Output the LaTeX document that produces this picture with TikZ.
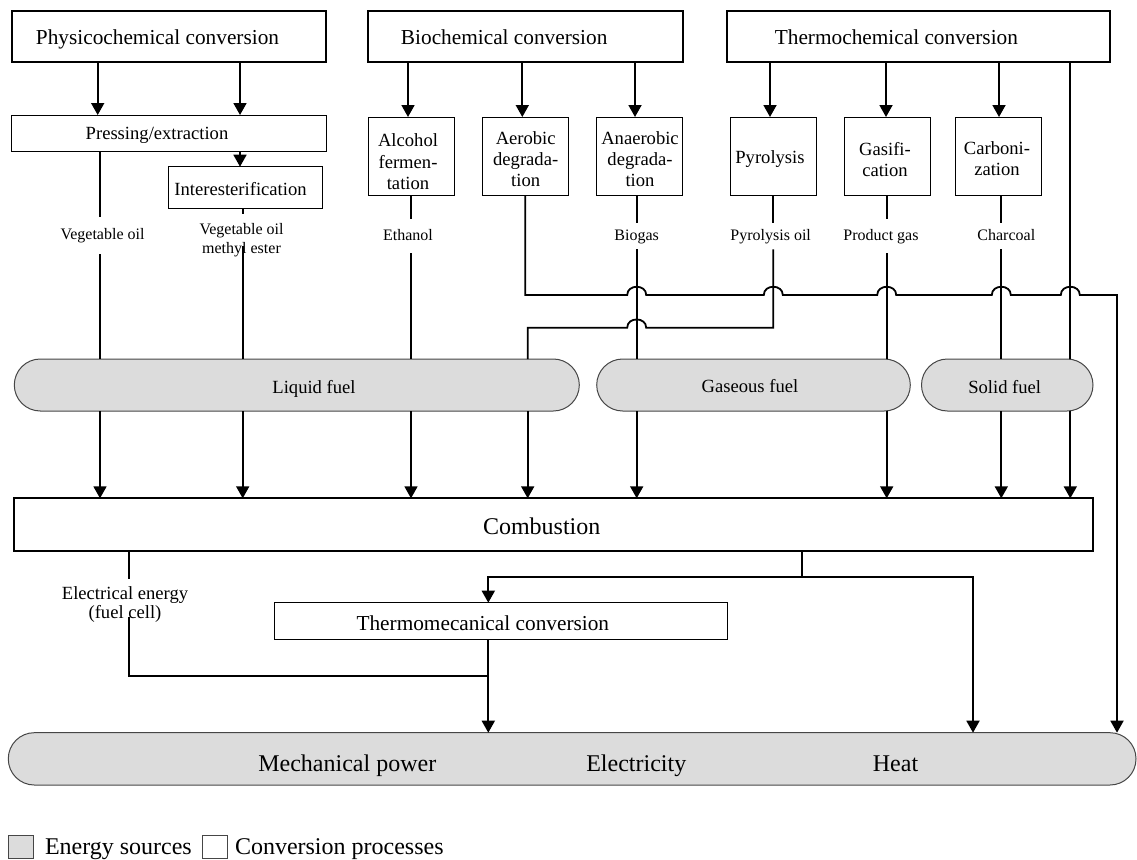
\documentclass[tikz,border=0pt]{standalone}
\usepackage{fontspec}
\setmainfont{Liberation Serif}
\usetikzlibrary{arrows.meta}
\definecolor{fuelgray}{RGB}{220,220,220}
\definecolor{edgegray}{RGB}{70,70,70}
\newcommand{\stk}[1]{\begin{tabular}[t]{@{}c@{}}#1\end{tabular}}
\begin{document}
\begin{tikzpicture}[x=1pt,y=-1pt,line join=miter,
 hdr/.style={draw, line width=2pt, rectangle, inner sep=0pt, outer sep=0pt},
 proc/.style={draw, line width=1pt, rectangle, inner sep=0pt, outer sep=0pt},
 fuel/.style={draw=edgegray, line width=1pt, fill=fuelgray, rectangle, rounded corners=26pt, inner sep=0pt, outer sep=0pt},
 txt/.style={inner sep=0pt, outer sep=0pt, anchor=base},
 lab/.style={inner sep=0pt, outer sep=0pt, text height=11pt, text depth=3.5pt, font=\fontsize{16}{19}\selectfont},
 conn/.style={line width=1.8pt},
 arr/.style={conn, -{Triangle[length=12pt,width=13pt]}},
 hfont/.style={txt, font=\fontsize{21.3}{25}\selectfont},
 pfont/.style={txt, font=\fontsize{18.6}{21.3}\selectfont},
 sfont/.style={txt, font=\fontsize{16}{19}\selectfont},
 bfont/.style={txt, font=\fontsize{24}{28}\selectfont},
]
\useasboundingbox (0,0) rectangle (1137,859);

% column coordinates
\coordinate (xA) at (97.7,0);
\coordinate (xB) at (240,0);
\coordinate (xC) at (408,0);
\coordinate (xD) at (522.3,0);
\coordinate (xE) at (635,0);
\coordinate (xF) at (770,0);
\coordinate (xG) at (886,0);
\coordinate (xH) at (999,0);
\coordinate (cVeg) at (100,0);
\coordinate (cEth) at (411,0);
\coordinate (cAer) at (525.3,0);
\coordinate (cLq) at (527.7,0);
\coordinate (cBio) at (636.7,0);
\coordinate (cPyr) at (773.3,0);
\coordinate (cPg) at (886.7,0);
\coordinate (cCh) at (1001.3,0);
\coordinate (cTR) at (1070.3,0);
\coordinate (cR) at (1117,0);
\coordinate (cVme) at (242.7,0);
\coordinate (cEl) at (129,0);
\coordinate (cCo) at (802,0);
\coordinate (cTm) at (488.3,0);
\coordinate (cHt) at (973,0);
\coordinate (y295) at (0,295);
\coordinate (y328) at (0,327.7);
\coordinate (y577) at (0,577.3);
\coordinate (y676) at (0,676);
\coordinate (vmeN) at (242.7,214);
\coordinate (vmeS) at (242.7,246);
\coordinate (elN) at (129,579.3);
\coordinate (elS) at (129,616.7);

% headers
\node[hdr, minimum width=314.3pt, minimum height=51.3pt] (phys) at (168.85,36.35) {};
\node[hdr, minimum width=314.7pt, minimum height=51.3pt] (bio) at (525.35,36.35) {};
\node[hdr, minimum width=383pt, minimum height=51.3pt] (thermo) at (918.8,36.35) {};
\node[hfont] (physt) at (157.5,44.3) {Physicochemical conversion};
\node[hfont] (biot) at (504.2,44.3) {Biochemical conversion};
\node[hfont] (thermot) at (896.4,44.3) {Thermochemical conversion};

% processes
\node[proc, minimum width=314.3pt, minimum height=36pt] (press) at (168.85,133) {};
\node[pfont] (presst) at (157,139.3) {Pressing/extraction};
\node[proc, minimum width=154pt, minimum height=41.3pt] (inter) at (245.7,187.35) {};
\node[pfont] (intert) at (240.5,195.7) {Interesterification};
\node[proc, minimum width=86pt, minimum height=78pt] (alc) at (411,156) {};
\node[pfont] (alct) at (408,146.7) {\stk{Alcohol\\fermen-\\tation}};
\node[proc, minimum width=85.6pt, minimum height=78pt] (aer) at (525.5,156) {};
\node[pfont] (aert) at (525.7,144) {\stk{Aerobic\\degrada-\\tion}};
\node[proc, minimum width=85.6pt, minimum height=78pt] (ana) at (639.5,156) {};
\node[pfont] (anat) at (640,144) {\stk{Anaerobic\\degrada-\\tion}};
\node[proc, minimum width=85.6pt, minimum height=78pt] (pyr) at (773.5,156) {};
\node[pfont] (pyrt) at (770,163.3) {Pyrolysis};
\node[proc, minimum width=86pt, minimum height=78pt] (gasi) at (887.3,156) {};
\node[pfont] (gasit) at (885,155) {\stk{Gasifi-\\cation}};
\node[proc, minimum width=85.6pt, minimum height=78pt] (car) at (998.5,156) {};
\node[pfont] (cart) at (997,154.3) {\stk{Carboni-\\zation}};

% product labels
\node[lab, minimum height=37pt] (lveg) at (102.5,235.55) {Vegetable oil};
\node[sfont] (lvme) at (241.5,234.3) {\stk{Vegetable oil\\methyl ester}};
\node[lab, minimum height=34pt] (leth) at (408,236.25) {Ethanol};
\node[lab, minimum height=26.3pt] (lbio) at (636.7,236.25) {Biogas};
\node[lab, minimum height=26.3pt] (lpyr) at (770.7,236.25) {Pyrolysis oil};
\node[lab, minimum height=33.7pt] (lpg) at (881,236.25) {Product gas};
\node[lab, minimum height=26.3pt] (lch) at (1006.3,236.25) {Charcoal};

% fuels
\node[fuel, minimum width=565pt, minimum height=52pt] (liq) at (296.8,385) {};
\node[pfont] (liqt) at (314,393.3) {Liquid fuel};
\node[fuel, minimum width=313.6pt, minimum height=52pt] (gasf) at (753.5,385) {};
\node[pfont] (gasft) at (750,392.3) {Gaseous fuel};
\node[fuel, minimum width=171.5pt, minimum height=52pt] (sol) at (1007.25,385) {};
\node[pfont] (solt) at (1004.7,393.3) {Solid fuel};

% combustion
\node[hdr, minimum width=1079pt, minimum height=52.7pt] (comb) at (553.5,524.65) {};
\node[bfont] (combt) at (541.7,534.3) {Combustion};

% electrical label and thermomechanical
\node[txt, font=\fontsize{18.6}{19.3}\selectfont] (lel) at (125,599) {\stk{Electrical energy\\(fuel cell)}};
\node[proc, minimum width=453.7pt, minimum height=36.6pt] (tm) at (500.85,621) {};
\node[hfont] (tmt) at (482.8,630) {Thermomecanical conversion};

% output bar
\node[fuel, minimum width=1127.7pt, minimum height=52.3pt] (bar) at (572.15,758.85) {};
\node[bfont] (tmech) at (347.3,771) {Mechanical power};
\node[bfont] (telec) at (636.3,771) {Electricity};
\node[bfont] (theat) at (895.5,771) {Heat};

% legend
\node[fuel, rounded corners=0pt, minimum width=25pt, minimum height=23.3pt] (lg1) at (20.8,846.65) {};
\node[bfont, anchor=base west] (lg1t) at (45,854) {Energy sources};
\node[draw=edgegray, line width=1pt, rectangle, inner sep=0pt, minimum width=24.6pt, minimum height=23.3pt] (lg2) at (215,846.65) {};
\node[bfont, anchor=base west] (lg2t) at (235,854) {Conversion processes};

% header arrows
\draw[arr] (phys.south -| xA) -- (press.north -| xA);
\draw[arr] (phys.south -| xB) -- (press.north -| xB);
\draw[arr] (press.south -| xB) -- (inter.north -| xB);
\draw[arr] (bio.south -| xC) -- (alc.north -| xC);
\draw[arr] (bio.south -| xD) -- (aer.north -| xD);
\draw[arr] (bio.south -| xE) -- (ana.north -| xE);
\draw[arr] (thermo.south -| xF) -- (pyr.north -| xF);
\draw[arr] (thermo.south -| xG) -- (gasi.north -| xG);
\draw[arr] (thermo.south -| xH) -- (car.north -| xH);

% product lines
\draw[conn] (press.south -| cVeg) -- (lveg.north -| cVeg);
\draw[conn] (lveg.south -| cVeg) -- (liq.north -| cVeg);
\draw[conn] (inter.south -| cVme) -- (vmeN);
\draw[conn] (vmeS) -- (liq.north -| cVme);
\draw[conn] (alc.south -| cEth) -- (leth.north -| cEth);
\draw[conn] (leth.south -| cEth) -- (liq.north -| cEth);
\draw[conn] (ana.south -| cBio) -- (lbio.north -| cBio);
\draw[conn] (lbio.south -| cBio) -- (gasf.north -| cBio);
\draw[conn] (pyr.south -| cPyr) -- (lpyr.north -| cPyr);
\draw[conn] (lpyr.south -| cPyr) -- (cPyr |- y328) -- (646.2,327.7) .. controls (646.2,316.7) and (627.2,316.7) .. (627.2,327.7) -- (cLq |- y328) -- (liq.north -| cLq);
\draw[conn] (gasi.south -| cPg) -- (lpg.north -| cPg);
\draw[conn] (lpg.south -| cPg) -- (gasf.north -| cPg);
\draw[conn] (car.south -| cCh) -- (lch.north -| cCh);
\draw[conn] (lch.south -| cCh) -- (sol.north -| cCh);
\draw[conn] (thermo.south -| cTR) -- (sol.north -| cTR);
\draw[arr] (aer.south -| cAer) -- (cAer |- y295)
  -- (627.2,295) .. controls (627.2,284) and (646.2,284) .. (646.2,295)
  -- (763.8,295) .. controls (763.8,284) and (782.8,284) .. (782.8,295)
  -- (877.2,295) .. controls (877.2,284) and (896.2,284) .. (896.2,295)
  -- (991.8,295) .. controls (991.8,284) and (1010.8,284) .. (1010.8,295)
  -- (1060.8,295) .. controls (1060.8,284) and (1079.8,284) .. (1079.8,295)
  -- (cR |- y295) -- (bar.north -| cR);

% fuel to combustion
\draw[arr] (liq.south -| cVeg) -- (comb.north -| cVeg);
\draw[arr] (liq.south -| cVme) -- (comb.north -| cVme);
\draw[arr] (liq.south -| cEth) -- (comb.north -| cEth);
\draw[arr] (liq.south -| cLq) -- (comb.north -| cLq);
\draw[arr] (gasf.south -| cBio) -- (comb.north -| cBio);
\draw[arr] (gasf.south -| cPg) -- (comb.north -| cPg);
\draw[arr] (sol.south -| cCh) -- (comb.north -| cCh);
\draw[arr] (sol.south -| cTR) -- (comb.north -| cTR);

% combustion outputs
\draw[conn] (comb.south -| cEl) -- (elN);
\draw[conn] (elS) -- (cEl |- y676) -- (cTm |- y676);
\draw[conn] (comb.south -| cCo) -- (cCo |- y577);
\draw[arr] (cCo |- y577) -- (cTm |- y577) -- (tm.north -| cTm);
\draw[arr] (cCo |- y577) -- (cHt |- y577) -- (bar.north -| cHt);
\draw[arr] (tm.south -| cTm) -- (bar.north -| cTm);
\end{tikzpicture}
\end{document}
